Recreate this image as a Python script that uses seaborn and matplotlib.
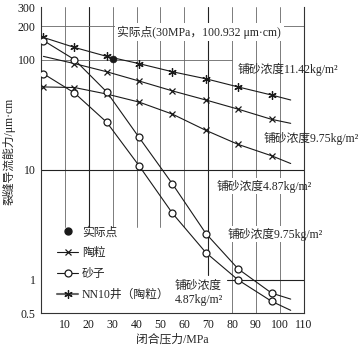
import matplotlib
matplotlib.use("Agg")
import matplotlib.pyplot as plt
from matplotlib.lines import Line2D
import seaborn as sns
import pandas as pd

sns.set_theme(style="white")
FAM = ['Liberation Serif', 'Noto Sans CJK SC']
plt.rcParams['font.family'] = FAM
plt.rcParams['axes.unicode_minus'] = False

# ---- data ----
pressure = [1, 14, 27.5, 41, 55, 69, 82.5, 96.5, 104.5]   # last = curve end, no marker
nn10_1142 = [159, 129, 107, 92, 77.6, 67, 56.5, 47.7, 43]
ceramic_975 = [107, 92, 77.6, 64, 52, 43, 35.5, 28.7, 26.4]
ceramic_487 = [56.5, 55.8, 48.7, 41.2, 32, 22.8, 17, 13.4, 11.4]
sand_975 = [149, 100, 50.9, 19.7, 7.44, 2.64, 1.26, 0.76, 0.67]
sand_487 = [74.4, 49.8, 27, 10.9, 4.03, 1.77, 1.0, 0.64, 0.53]
actual_x = [30]
actual_y = [100.932]

x_ticks = [10, 20, 30, 40, 50, 60, 70, 80, 90, 100, 110]
y_ticks = [0.5, 1, 10, 100, 200, 300]
y_ticklabels = ["0.5", "1", "10", "100", "200", "300"]

fig = plt.figure(figsize=(3.6, 3.53), dpi=100)
ax = fig.add_axes([0.114, 0.113, 0.730, 0.867])
ax.set_yscale('log')
ax.set_xlim(0, 110)
ax.set_ylim(0.5, 300)

# ---- grid (partial, as in the scan) ----
gcol = '#666666'
for xv in [10, 30, 40, 50, 60]:
    ax.plot([xv, xv], [3.0, 300], color=gcol, lw=0.6, zorder=0)
ax.plot([20, 20], [3.0, 300], color='#222222', lw=0.8, zorder=0)
ax.plot([70, 70], [1.1, 300], color='#222222', lw=0.8, zorder=0)
for xv in [80, 90, 100]:
    ax.plot([xv, xv], [0.5, 300], color=gcol, lw=0.6, zorder=0)
ax.axhline(200, color=gcol, lw=0.6, zorder=0)
ax.plot([0, 80], [100, 100], color=gcol, lw=0.6, zorder=0)
ax.axhline(10, color='#222222', lw=0.8, zorder=0)
ax.plot([78, 110], [1, 1], color='#222222', lw=0.8, zorder=0)

lw = 0.8
def series(y, marker, ms, mev, mfc='k', mew=0.9):
    df = pd.DataFrame({'p': pressure, 'v': y})
    sns.lineplot(data=df, x='p', y='v', ax=ax, color='k', lw=lw, sort=False,
                 marker=marker, markersize=ms, markevery=mev,
                 markerfacecolor=mfc, markeredgecolor='k', markeredgewidth=mew,
                 legend=False, zorder=3)

series(nn10_1142, (6, 2, 0), 6, list(range(8)))
series(ceramic_975, 'x', 4.5, list(range(1, 8)))
series(ceramic_487, 'x', 4.5, list(range(8)))
series(sand_975, 'o', 5, list(range(8)), mfc='white')
series(sand_487, 'o', 5, list(range(8)), mfc='white')
sns.scatterplot(x=actual_x, y=actual_y, ax=ax, color='k', s=25, zorder=4,
                edgecolor='k', legend=False)

# ---- axes styling ----
ax.set_xticks(x_ticks)
ax.set_xticklabels([str(v) for v in x_ticks], fontsize=8.5)
ax.set_yticks(y_ticks)
ax.set_yticklabels(y_ticklabels, fontsize=8.5)
ax.minorticks_off()
ax.tick_params(axis='both', direction='in', length=3, width=0.6, colors='k',
               pad=4)
ax.tick_params(axis='y', length=6)
for s in ['left', 'bottom', 'right']:
    ax.spines[s].set_color('#333333')
    ax.spines[s].set_linewidth(0.8)
ax.spines['top'].set_visible(False)
ax.grid(False)

ax.set_xlabel("闭合压力/MPa", fontsize=8.5, labelpad=2)
ax.set_ylabel("裂缝导流能力/μm·cm", fontsize=8.5)
ax.yaxis.set_label_coords(-0.098, 0.53)

# ---- annotations ----
fs = 8.5
ax.text(32, 178, "实际点(30MPa，100.932 μm·cm)", fontsize=fs, va='center',
        ha='left', bbox=dict(facecolor='white', edgecolor='none', pad=2), zorder=2)
ax.text(82.4, 81, "铺砂浓度11.42kg/m²", fontsize=fs, va='center', ha='left',
        clip_on=False)
ax.text(93, 19.2, "铺砂浓度9.75kg/m²", fontsize=fs, va='center', ha='left',
        clip_on=False)
ax.text(73.6, 7.1, "铺砂浓度4.87kg/m²", fontsize=fs, va='center', ha='left',
        bbox=dict(facecolor='white', edgecolor='none', pad=1), zorder=2)
ax.text(78, 2.6, "铺砂浓度9.75kg/m²", fontsize=fs, va='center', ha='left',
        bbox=dict(facecolor='white', edgecolor='none', pad=1), zorder=2)
ax.text(56, 0.76, "铺砂浓度\n4.87kg/m²", fontsize=fs, va='center', ha='left',
        linespacing=1.3)

# ---- legend ----
handles = [
    Line2D([], [], ls='none', marker='o', color='k', markersize=5),
    Line2D([], [], color='k', lw=lw, marker='x', markersize=4.5, mew=0.9),
    Line2D([], [], color='k', lw=lw, marker='o', markersize=5, mfc='white', mew=0.9),
    Line2D([], [], color='#666666', lw=1.5, marker=(6, 2, 0), markersize=6,
           mec='k', mew=0.9),
]
labels = ["实际点", "陶粒", "砂子", "NN10井（陶粒）"]
ax.legend(handles, labels, loc='upper left', bbox_to_anchor=(0.03, 0.31),
          frameon=False, fontsize=fs, handlelength=1.8, handletextpad=0.3,
          labelspacing=0.75, borderpad=0.2)

fig.savefig("out.png", dpi=100)
